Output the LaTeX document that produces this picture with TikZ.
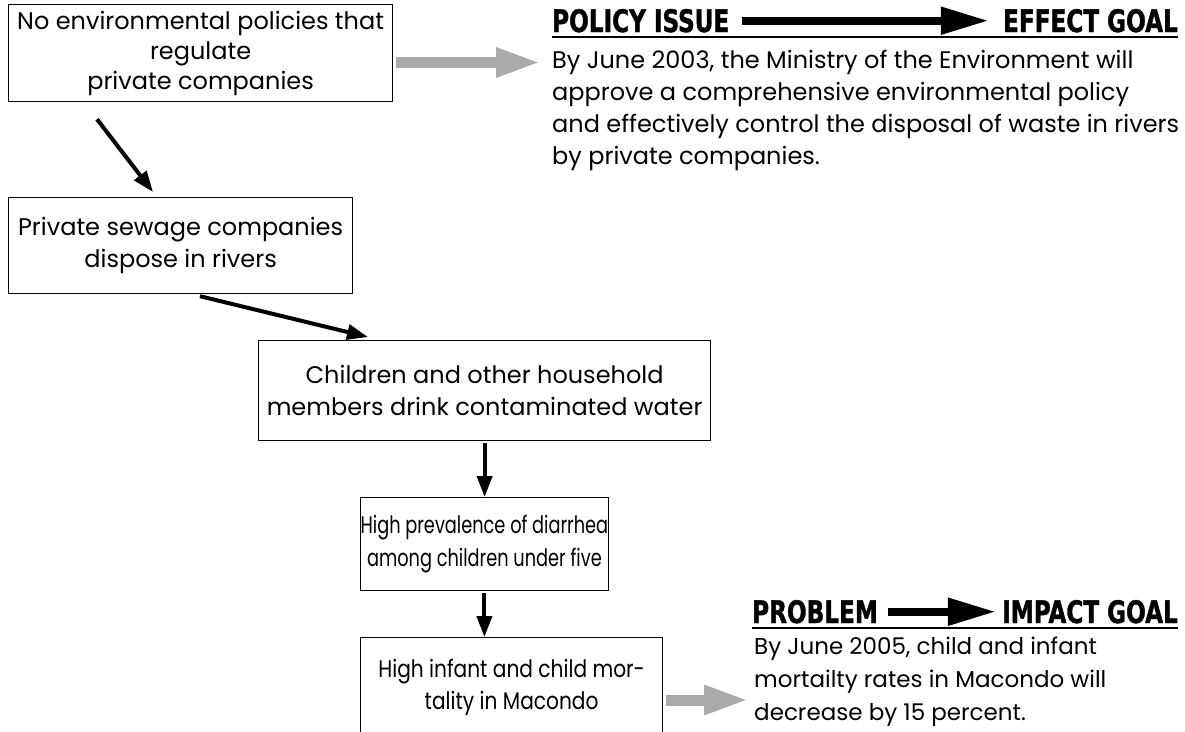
\documentclass[tikz,border=0pt]{standalone}
\usepackage{fontspec}
\setmainfont{Poppins}
\newfontfamily\headfont[FakeStretch=0.83,FakeBold=1.2]{DejaVu Sans Condensed}
\newfontfamily\squeezedA[FakeStretch=0.74]{Poppins}
\newfontfamily\squeezedB[FakeStretch=0.84]{Poppins}
\usetikzlibrary{arrows.meta}
\definecolor{arrowgray}{RGB}{170,170,170}
\newcommand{\bodytext}{\fontsize{24}{32.5}\selectfont}

\begin{document}
\begin{tikzpicture}[
    x=1pt, y=-1pt,
    box/.style={draw, line width=1.2pt, align=center, inner sep=0pt, anchor=north west, font=\bodytext},
    goal/.style={align=left, inner sep=0pt, anchor=north west},
    heading/.style={inner sep=0pt, font=\headfont\bfseries\fontsize{31}{31}\selectfont},
    cause/.style={line width=4pt, -{Triangle[length=21pt,width=15pt]}},
    toGoal/.style={line width=11pt, arrowgray, shorten <=3pt, -{Triangle[length=45pt,width=27pt]}},
    headArrow/.style={line width=8pt, -{Triangle[length=48pt,width=26pt]}}
]
\useasboundingbox (0,0) rectangle (1185,731);

% Kette der Ursachen
\node[box, minimum width=384pt, minimum height=97pt, font=\fontsize{24}{30}\selectfont] (noPolicy) at (8,4)
    {No environmental policies that\\ regulate\\ private companies};
\node[box, minimum width=344pt, minimum height=96pt] (sewage) at (8,197)
    {Private sewage companies\\ dispose in rivers};
\node[box, minimum width=452pt, minimum height=100pt] (drinkWater) at (258,340)
    {Children and other household\\ members drink contaminated water};
\node[box, minimum width=246pt, minimum height=93pt, font=\squeezedA\bodytext] (diarrhea) at (360,497)
    {High prevalence of diarrhea\\ among children under five};
\node[box, minimum width=302pt, minimum height=100pt, font=\squeezedB\bodytext] (mortality) at (360,637)
    {High infant and child mor-\\ tality in Macondo};

% Ziele
\node[heading, anchor=base west] (policyIssue) at (552,32) {POLICY ISSUE};
\node[heading, anchor=base east] (effectGoal) at (1178,32) {EFFECT GOAL};
\node[goal, font=\fontsize{24}{32}\selectfont] (effectText) at (552,49.5)
    {By June 2003, the Ministry of the Environment will\\
     approve a comprehensive environmental policy\\
     and effectively control the disposal of waste in rivers\\
     by private companies.};

\node[heading, anchor=base west] (problem) at (752,623) {PROBLEM};
\node[heading, anchor=base east] (impactGoal) at (1178,623) {IMPACT GOAL};
\node[goal, font=\fontsize{23}{33}\selectfont] (impactText) at (754,637)
    {By June 2005, child and infant\\
     mortailty rates in Macondo will\\
     decrease by 15 percent.};

\coordinate (effectTip) at (541,62.5);
\coordinate (impactTip) at (749,700);

% Unterstreichungen
\draw[line width=2pt] ([yshift=-5pt]policyIssue.base west) -- ([yshift=-5pt]effectGoal.base east);
\draw[line width=2pt] ([yshift=-5pt]problem.base west) -- ([yshift=-5pt]impactGoal.base east);

% Pfeile
\draw[cause] ([xshift=89pt,yshift=-17pt]noPolicy.south west) -- ([xshift=145pt,yshift=5pt]sewage.north west);
\draw[cause] ([xshift=192pt,yshift=-2pt]sewage.south west) -- ([xshift=110pt,yshift=3pt]drinkWater.north west);
\draw[cause] ([yshift=-2pt]drinkWater.south) -- (drinkWater.south |- diarrhea.north);
\draw[cause] ([yshift=-2pt]diarrhea.south) -- (diarrhea.south |- mortality.north);

\draw[toGoal] (noPolicy.east |- effectTip) -- (effectTip);
\draw[toGoal] (mortality.east |- impactTip) -- (impactTip);

\draw[headArrow] ([xshift=12pt]policyIssue.east) -- ([xshift=-14pt]effectGoal.west);
\draw[headArrow] ([xshift=10pt]problem.east) -- ([xshift=-6pt]impactGoal.west);
\end{tikzpicture}
\end{document}
